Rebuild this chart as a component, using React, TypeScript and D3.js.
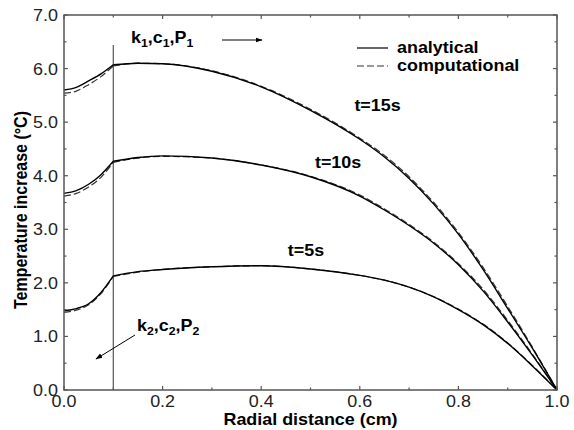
import React from 'react';
import * as d3 from 'd3';

// radial positions (cm) for the inner layer and outer layer
const rInner = [0, 0.025, 0.05, 0.075, 0.1];
const rOuter = [0.1, 0.15, 0.2, 0.3, 0.4, 0.5, 0.6, 0.65, 0.7, 0.75, 0.8, 0.85, 0.9, 0.95, 1.0];

// analytical solution
const t15InnerA = [5.6, 5.65, 5.77, 5.9, 6.07];
const t10InnerA = [3.67, 3.72, 3.84, 4.02, 4.27];
const t5InnerA = [1.48, 1.52, 1.61, 1.82, 2.13];
const t15OuterA = [6.07, 6.1, 6.09, 5.95, 5.66, 5.22, 4.68, 4.35, 3.95, 3.47, 2.91, 2.25, 1.52, 0.78, 0];
const t10OuterA = [4.27, 4.34, 4.37, 4.33, 4.2, 3.98, 3.62, 3.36, 3.07, 2.74, 2.34, 1.85, 1.27, 0.65, 0];
const t5OuterA = [2.13, 2.21, 2.25, 2.3, 2.32, 2.26, 2.14, 2.05, 1.92, 1.74, 1.5, 1.22, 0.87, 0.45, 0];

// computational solution
const t15InnerC = [5.54, 5.58, 5.7, 5.85, 6.05];
const t10InnerC = [3.62, 3.67, 3.79, 3.97, 4.25];
const t5InnerC = [1.45, 1.49, 1.59, 1.8, 2.12];
const t15OuterC = [6.05, 6.1, 6.09, 5.96, 5.67, 5.24, 4.7, 4.38, 3.98, 3.5, 2.94, 2.29, 1.56, 0.8, 0];
const t10OuterC = [4.25, 4.33, 4.36, 4.33, 4.2, 3.99, 3.64, 3.38, 3.09, 2.76, 2.36, 1.88, 1.3, 0.67, 0];
const t5OuterC = [2.12, 2.2, 2.25, 2.3, 2.32, 2.26, 2.14, 2.05, 1.92, 1.74, 1.51, 1.23, 0.88, 0.46, 0];

const xTicks = [0, 0.2, 0.4, 0.6, 0.8, 1.0];
const xMinor = [0.1, 0.3, 0.5, 0.7, 0.9];
const yTicks = [0, 1, 2, 3, 4, 5, 6, 7];
const yMinor = [0.5, 1.5, 2.5, 3.5, 4.5, 5.5, 6.5];

const curveLabels = [
  { text: 't=15s', r: 0.589, v: 5.2 },
  { text: 't=10s', r: 0.509, v: 4.15 },
  { text: 't=5s', r: 0.454, v: 2.5 },
];

const W = 574;
const H = 430;
const left = 64, right = 557, top = 15, bottom = 390;
const font = '"Liberation Sans", Arial, sans-serif';
const axisColor = '#555';
const SX = 1.12; // the picture is a little wider than tall

// text stretched horizontally like the reference
const T = ({ x, y, rot, children, ...rest }: any) => (
  <text transform={`translate(${x},${y}) scale(${SX},1)${rot ? ` rotate(${rot})` : ''}`} {...rest}>
    {children}
  </text>
);

const App = () => {
  const x = d3.scaleLinear().domain([0, 1]).range([left, right]);
  const y = d3.scaleLinear().domain([0, 7]).range([bottom, top]);

  const line = d3.line<[number, number]>()
    .x(d => x(d[0]))
    .y(d => y(d[1]))
    .curve(d3.curveMonotoneX);

  const pair = (rs: number[], vs: number[]) => rs.map((r, i) => [r, vs[i]] as [number, number]);

  const analytical = [
    pair(rInner, t15InnerA), pair(rOuter, t15OuterA),
    pair(rInner, t10InnerA), pair(rOuter, t10OuterA),
    pair(rInner, t5InnerA), pair(rOuter, t5OuterA),
  ];
  const computational = [
    pair(rInner, t15InnerC), pair(rOuter, t15OuterC),
    pair(rInner, t10InnerC), pair(rOuter, t10OuterC),
    pair(rInner, t5InnerC), pair(rOuter, t5OuterC),
  ];

  return (
    <svg width={W} height={H} style={{ position: 'absolute', left: 0, top: 0, background: '#fff' }}
      fontFamily={font}>
      {/* interface between layers */}
      <line x1={x(0.1)} x2={x(0.1)} y1={y(6.44)} y2={y(0)} stroke={axisColor} strokeWidth={1.2} />

      {computational.map((d, i) => (
        <path key={'c' + i} d={line(d) || ''} fill="none" stroke="#333" strokeWidth={1.2}
          strokeDasharray="7,3" />
      ))}
      {analytical.map((d, i) => (
        <path key={'a' + i} d={line(d) || ''} fill="none" stroke="#000" strokeWidth={1.4} />
      ))}

      {/* frame */}
      <rect x={left} y={top} width={right - left} height={bottom - top} fill="none"
        stroke={axisColor} strokeWidth={1.5} />

      {/* x ticks, bottom and top, pointing inward */}
      {xTicks.map(t => (
        <g key={'xt' + t}>
          <line x1={x(t)} x2={x(t)} y1={bottom} y2={bottom - 4} stroke={axisColor} strokeWidth={1.2} />
          <line x1={x(t)} x2={x(t)} y1={top} y2={top + 4} stroke={axisColor} strokeWidth={1.2} />
          <T x={x(t)} y={407} textAnchor="middle" fontSize={16} fill="#222">{t.toFixed(1)}</T>
        </g>
      ))}
      {xMinor.map(t => (
        <g key={'xm' + t}>
          <line x1={x(t)} x2={x(t)} y1={bottom} y2={bottom - 2.5} stroke={axisColor} strokeWidth={1.2} />
          <line x1={x(t)} x2={x(t)} y1={top} y2={top + 2.5} stroke={axisColor} strokeWidth={1.2} />
        </g>
      ))}

      {/* y ticks, left and right */}
      {yTicks.map(t => (
        <g key={'yt' + t}>
          <line x1={left} x2={left + 4} y1={y(t)} y2={y(t)} stroke={axisColor} strokeWidth={1.2} />
          <line x1={right} x2={right - 4} y1={y(t)} y2={y(t)} stroke={axisColor} strokeWidth={1.2} />
          <T x={58} y={y(t) + 6} textAnchor="end" fontSize={16} fill="#222">{t.toFixed(1)}</T>
        </g>
      ))}
      {yMinor.map(t => (
        <g key={'ym' + t}>
          <line x1={left} x2={left + 2.5} y1={y(t)} y2={y(t)} stroke={axisColor} strokeWidth={1.2} />
          <line x1={right} x2={right - 2.5} y1={y(t)} y2={y(t)} stroke={axisColor} strokeWidth={1.2} />
        </g>
      ))}

      {/* axis titles */}
      <T x={(left + right) / 2} y={425} textAnchor="middle" fontSize={16} fontWeight="bold">
        Radial distance (cm)
      </T>
      <T x={27} y={210} rot={-90} textAnchor="middle" fontSize={16} fontWeight="bold">
        Temperature increase (°C)
      </T>

      {/* legend */}
      <line x1={357} x2={388} y1={48} y2={48} stroke="#000" strokeWidth={1.2} />
      <T x={397} y={53} fontSize={16} fontWeight="bold">analytical</T>
      <line x1={357} x2={388} y1={66} y2={66} stroke="#333" strokeWidth={1.2} strokeDasharray="7,3" />
      <T x={397} y={71} fontSize={16} fontWeight="bold">computational</T>

      {/* curve labels */}
      {curveLabels.map(l => (
        <T key={l.text} x={x(l.r)} y={y(l.v)} fontSize={16} fontWeight="bold">{l.text}</T>
      ))}

      {/* layer annotations */}
      <T x={131} y={43} fontSize={16} fontWeight="bold">
        k<tspan fontSize={11} dy={4}>1</tspan>
        <tspan dy={-4}>,c</tspan><tspan fontSize={11} dy={4}>1</tspan>
        <tspan dy={-4}>,P</tspan><tspan fontSize={11} dy={4}>1</tspan>
      </T>
      <defs>
        <marker id="arr" viewBox="0 0 10 10" refX={9} refY={5} markerWidth={7} markerHeight={7}
          orient="auto">
          <path d="M0,1.5 L10,5 L0,8.5 Z" fill="#000" />
        </marker>
      </defs>
      <line x1={222} x2={262} y1={40} y2={40} stroke="#000" strokeWidth={1} markerEnd="url(#arr)" />

      <T x={137} y={331} fontSize={16} fontWeight="bold">
        k<tspan fontSize={11} dy={4}>2</tspan>
        <tspan dy={-4}>,c</tspan><tspan fontSize={11} dy={4}>2</tspan>
        <tspan dy={-4}>,P</tspan><tspan fontSize={11} dy={4}>2</tspan>
      </T>
      <line x1={135} x2={96} y1={335} y2={359} stroke="#000" strokeWidth={1} markerEnd="url(#arr)" />
    </svg>
  );
};

export default App;
